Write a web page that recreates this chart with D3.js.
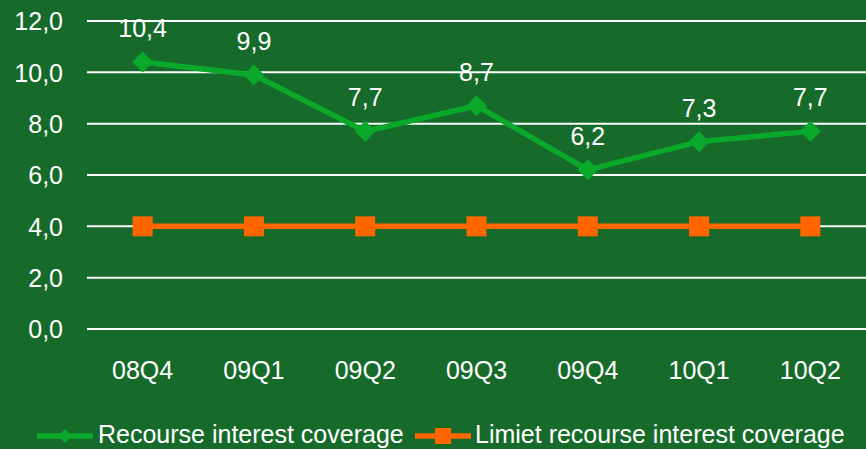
<!DOCTYPE html>
<html><head><meta charset="utf-8">
<script src="https://cdn.jsdelivr.net/npm/d3@7"></script>
<style>html,body{margin:0;padding:0;background:#166b2b;}svg{display:block;}</style>
</head><body>
<svg id="c" width="866" height="449"></svg>
<script>
const categories = ["08Q4","09Q1","09Q2","09Q3","09Q4","10Q1","10Q2"];
const coverage = [10.4, 9.9, 7.7, 8.7, 6.2, 7.3, 7.7];
const limit = [4.0, 4.0, 4.0, 4.0, 4.0, 4.0, 4.0];
const yTicks = [0,2,4,6,8,10,12];
const seriesNames = ["Recourse interest coverage","Limiet recourse interest coverage"];

const W = 866, H = 449;
const bg = "#166b2b", green = "#0aa82b", orange = "#ff6600";
const svg = d3.select("#c");
svg.append("rect").attr("width",W).attr("height",H).attr("fill",bg);
const font = "Liberation Sans, Arial, sans-serif";
const fs = 25;
const fmt = v => v.toFixed(1).replace(".", ",");
const diamondPath = r => `M0,${-r}L${r},0L0,${r}L${-r},0Z`;

const x = d3.scaleBand().domain(categories).range([87, 866]);
const y = d3.scaleLinear().domain([0,12]).range([329, 21]);
const cx = c => x(c) + x.bandwidth()/2;

// gridlines
svg.append("g").selectAll("line").data(yTicks).join("line")
  .attr("x1", 87).attr("x2", 866)
  .attr("y1", d => y(d)).attr("y2", d => y(d))
  .attr("stroke", "#fff").attr("stroke-width", 2);

// y axis labels
const yAxis = d3.axisLeft(y).tickValues(yTicks).tickFormat(fmt).tickSize(0).tickPadding(0);
const gy = svg.append("g").attr("transform","translate(63,0)").call(yAxis);
gy.select(".domain").remove();
gy.selectAll("text").attr("fill","#fff").attr("font-size",fs).attr("font-family",font).attr("dy","0.35em");

// x axis labels
const xAxis = d3.axisBottom(x).tickSize(0).tickPadding(0);
const gx = svg.append("g").attr("transform","translate(0,379)").call(xAxis);
gx.select(".domain").remove();
gx.selectAll("text").attr("fill","#fff").attr("font-size",fs).attr("font-family",font).attr("dy","0");

const line = d3.line().x((d,i) => cx(categories[i])).y(d => y(d));

// limit series
svg.append("path").datum(limit).attr("d", line).attr("fill","none")
  .attr("stroke", orange).attr("stroke-width", 5.5);
svg.append("g").selectAll("rect").data(limit).join("rect")
  .attr("x", (d,i) => cx(categories[i]) - 10).attr("y", d => y(d) - 10)
  .attr("width", 20).attr("height", 20).attr("fill", orange);

// coverage series
svg.append("path").datum(coverage).attr("d", line).attr("fill","none")
  .attr("stroke", green).attr("stroke-width", 5.5);
svg.append("g").selectAll("path").data(coverage).join("path")
  .attr("d", diamondPath(10.5))
  .attr("transform", (d,i) => `translate(${cx(categories[i])},${y(d)})`)
  .attr("fill", green);
svg.append("g").selectAll("text").data(coverage).join("text")
  .attr("x", (d,i) => cx(categories[i])).attr("y", d => y(d) - 25)
  .attr("text-anchor","middle").attr("fill","#fff")
  .attr("font-size",fs).attr("font-family",font).text(fmt);

// legend
const lg = svg.append("g");
const ly = 436;
lg.append("line").attr("x1",37).attr("x2",93).attr("y1",ly).attr("y2",ly)
  .attr("stroke",green).attr("stroke-width",5.5);
lg.append("path").attr("d", diamondPath(7)).attr("transform",`translate(65,${ly})`).attr("fill",green);
lg.append("text").attr("x",98).attr("y",443).attr("fill","#fff")
  .attr("font-size",fs).attr("font-family",font).text(seriesNames[0]);
lg.append("line").attr("x1",415).attr("x2",471).attr("y1",ly).attr("y2",ly)
  .attr("stroke",orange).attr("stroke-width",5.5);
lg.append("rect").attr("x",435).attr("y",ly-8).attr("width",16).attr("height",16).attr("fill",orange);
lg.append("text").attr("x",475).attr("y",443).attr("fill","#fff")
  .attr("font-size",fs).attr("font-family",font).text(seriesNames[1]);
</script>
</body></html>
